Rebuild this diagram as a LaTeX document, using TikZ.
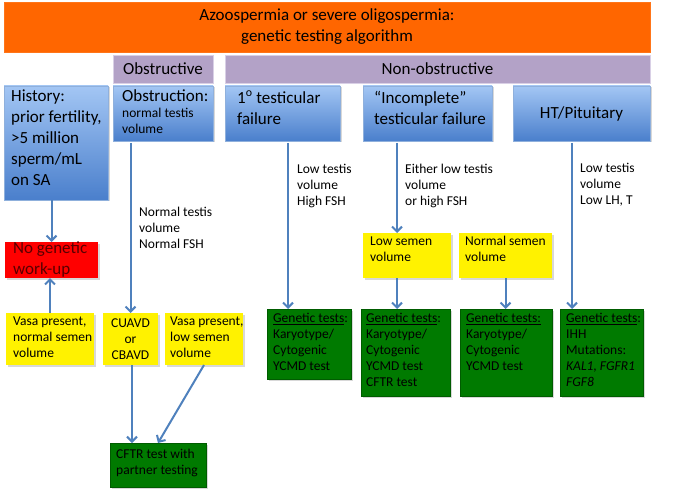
\documentclass[tikz,border=0pt]{standalone}
\usepackage{fontspec}
\setmainfont{Carlito}
\usetikzlibrary{arrows.meta,shadows,calc}
\definecolor{orangeT}{HTML}{FF6600}
\definecolor{purp}{HTML}{B3A2C7}
\definecolor{purpedge}{HTML}{D9D0E6}
\definecolor{bluetop}{HTML}{A3C6F4}
\definecolor{bluebot}{HTML}{4A7FCC}
\definecolor{blueedge}{HTML}{8FB0DC}
\definecolor{arrowc}{HTML}{4F81BD}
\definecolor{greenB}{HTML}{007A00}
\definecolor{greenD}{HTML}{005C00}
\definecolor{darkred}{HTML}{5A0000}
\tikzset{
  shd/.style={drop shadow={shadow xshift=1.5pt,shadow yshift=-1.5pt,opacity=0.3}},
  orbox/.style={fill=orangeT,draw=orangeT!90!white},
  purpbox/.style={fill=purp,draw=purpedge,line width=0.8pt},
  bluebox/.style={shd,top color=bluetop,bottom color=bluebot,draw=blueedge,line width=0.6pt},
  redbox/.style={shd,fill=red},
  yelbox/.style={shd,fill=yellow},
  grnbox/.style={shd,fill=greenB,draw=greenD,line width=0.4pt},
  big/.style={font=\fontsize{17}{21}\selectfont},
  sm/.style={font=\fontsize{13.5}{16}\selectfont},
  txt/.style={inner sep=0pt,align=left,anchor=north west},
  arr/.style={draw=arrowc,line width=2pt,-{Straight Barb[length=5pt,width=10pt]}},
}
\newcommand\mkbox[6]{\node[#2,anchor=north west,inner sep=0pt,outer sep=0pt,
  minimum width={(#5-#3)*1pt},minimum height={(#6-#4)*1pt}] (#1) at (#3,#4) {};}
\begin{document}
\begin{tikzpicture}[x=1pt,y=-1pt]
\useasboundingbox[fill=white] (0,0) rectangle (694,492);
% boxes
\mkbox{title}{orbox}{4}{2}{650}{52}
\mkbox{obs}{purpbox}{113}{55}{213}{83}
\mkbox{nonobs}{purpbox}{225}{55}{650}{83}
\mkbox{hist}{bluebox}{4}{86}{108}{200}
\mkbox{obstr}{bluebox}{113}{86}{213}{141}
\mkbox{prim}{bluebox}{225}{86}{340}{141}
\mkbox{inc}{bluebox}{363}{86}{492}{141}
\mkbox{ht}{bluebox}{513}{86}{650}{141}
\mkbox{nogen}{redbox}{5}{242}{98}{278}
\mkbox{vasa1}{yelbox}{6}{313}{94}{365}
\mkbox{cuavd}{yelbox}{103}{313}{158}{365}
\mkbox{vasa2}{yelbox}{165}{313}{243}{365}
\mkbox{lowsem}{yelbox}{363}{233}{451}{278}
\mkbox{normsem}{yelbox}{459}{233}{552}{278}
\mkbox{g1}{grnbox}{267}{309}{351}{379}
\mkbox{g2}{grnbox}{361}{309}{450}{396}
\mkbox{g3}{grnbox}{460}{309}{552}{396}
\mkbox{g4}{grnbox}{560}{309}{643}{396}
\mkbox{cftr}{grnbox}{110}{443}{206}{487}
% texts
\node[big,align=center,inner sep=0pt] (titlet) at (title.center) {Azoospermia or severe oligospermia:\\genetic testing algorithm};
\node[big,inner sep=0pt] (obst) at (obs.center) {Obstructive};
\node[big,inner sep=0pt] (nonobst) at (nonobs.center) {Non-obstructive};
\node[big,txt] (histt) at ([shift={(7,4)}]hist.north west) {History:\\prior fertility,\\{>}5 million\\sperm/mL\\on SA};
\node[big,txt] (obstrt) at ([shift={(9,3)}]obstr.north west) {Obstruction:};
\node[sm,txt] (obstrt2) at ([shift={(9,22)}]obstr.north west) {normal testis\\volume};
\node[big,txt] (primt) at ([shift={(12,5)}]prim.north west) {1\textsuperscript{o} testicular\\failure};
\node[big,txt] (inct) at ([shift={(11,5)}]inc.north west) {“Incomplete”\\testicular failure};
\node[big,inner sep=0pt] (htt) at (ht.center) {HT/Pituitary};
\node[big,txt,text=darkred] (nogent) at ([shift={(8,0)}]nogen.north west) {No genetic\\work-up};
\node[sm,txt] (vasa1t) at ([shift={(7,4)}]vasa1.north west) {Vasa present,\\normal semen\\volume};
\node[sm,align=center,inner sep=0pt] (cuavdt) at (cuavd.center) {CUAVD\\or\\CBAVD};
\node[sm,txt] (vasa2t) at ([shift={(5,4)}]vasa2.north west) {Vasa present,\\low semen\\volume};
\node[sm,txt] (lowsemt) at ([shift={(7,4)}]lowsem.north west) {Low semen\\volume};
\node[sm,txt] (normsemt) at ([shift={(6,3)}]normsem.north west) {Normal semen\\volume};
\node[sm,txt] (g1t) at ([shift={(6,4)}]g1.north west) {\underline{Genetic tests}:\\Karyotype/\\Cytogenic\\YCMD test};
\node[sm,txt] (g2t) at ([shift={(5,4)}]g2.north west) {\underline{Genetic tests}:\\Karyotype/\\Cytogenic\\YCMD test\\CFTR test};
\node[sm,txt] (g3t) at ([shift={(6,4)}]g3.north west) {\underline{Genetic tests:}\\Karyotype/\\Cytogenic\\YCMD test};
\node[sm,txt] (g4t) at ([shift={(6,4)}]g4.north west) {\underline{Genetic tests}:\\IHH\\Mutations:\\\textit{KAL1, FGFR1}\\\textit{FGF8}};
\node[sm,txt] (cftrt) at ([shift={(6,6)}]cftr.north west) {CFTR test with\\partner testing};
% edge labels
\node[sm,txt] (lab1) at (139,207) {Normal testis\\volume\\Normal FSH};
\node[sm,txt] (lab2) at (297,164) {Low testis\\volume\\High FSH};
\node[sm,txt] (lab3) at (405,164) {Either low testis\\volume\\or high FSH};
\node[sm,txt] (lab4) at (580,163) {Low testis\\volume\\Low LH, T};
% connectors
\draw[arr] (hist.south -| nogen.north) -- (nogen.north);
\draw[arr] (vasa1.north) -- (vasa1.north |- nogen.south);
\draw[arr] ([yshift=-2pt]cuavd.north |- obstr.south) -- (cuavd.north);
\draw[arr] ([xshift=5.5pt,yshift=-2pt]prim.south) -- ([xshift=5.5pt]prim.south |- g1.north);
\draw[arr] ([xshift=-30.5pt,yshift=-2pt]inc.south) -- ([xshift=-30.5pt]inc.south |- lowsem.north);
\draw[arr] ([xshift=-10pt]lowsem.south) -- ([xshift=-10pt]lowsem.south |- g2.north);
\draw[arr] (normsem.south) -- (normsem.south |- g3.north);
\draw[arr] ([xshift=-9.5pt,yshift=-2pt]ht.south) -- ([xshift=-9.5pt]ht.south |- g4.north);
\draw[arr] ([xshift=1.5pt]cuavd.south) -- ([xshift=1.5pt]cuavd.south |- cftr.north);
\draw[arr] (vasa2.south) -- (cftr.north);
\end{tikzpicture}
\end{document}
